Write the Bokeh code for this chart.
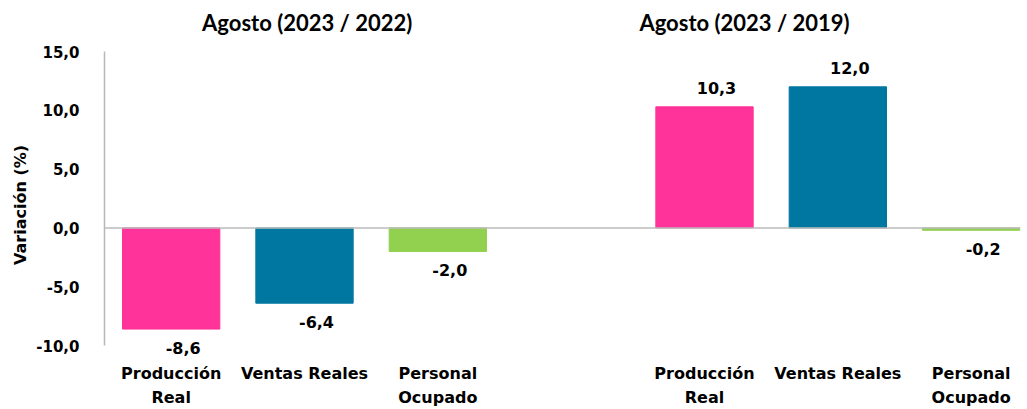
from bokeh.plotting import figure
from bokeh.models import ColumnDataSource, FixedTicker, Span
from bokeh.core.properties import value
from bokeh.embed import file_html
from bokeh.resources import INLINE

groups = ["Agosto (2023 / 2022)", "Agosto (2023 / 2019)"]
categories = ["Producción Real", "Ventas Reales", "Personal Ocupado"]
cat_line1 = ["Producción", "Ventas Reales", "Personal"]
cat_line2 = ["Real", "", "Ocupado"]
values_2022 = [-8.6, -6.4, -2.0]
values_2019 = [10.3, 12.0, -0.2]
colors = ["#FF3399", "#0077A0", "#92D050"]
y_ticks = [-10, -5, 0, 5, 10, 15]
y_tick_labels = ["-10,0", "-5,0", "0,0", "5,0", "10,0", "15,0"]

xs, tops, cols, txt, l1, l2 = [], [], [], [], [], []
for gi, vals in enumerate([values_2022, values_2019]):
    for ci, v in enumerate(vals):
        xs.append(gi * 4 + ci)
        tops.append(v)
        cols.append(colors[ci])
        txt.append(f"{v:.1f}".replace(".", ","))
        l1.append(cat_line1[ci])
        l2.append(cat_line2[ci])

ymin, ymax = -10, 15
src = ColumnDataSource(dict(x=xs, top=tops, color=cols, txt=txt, l1=l1, l2=l2,
                            yoff=[-19 if t >= 0 else 19 for t in tops],
                            yl1=[ymin - 2.38] * len(xs), yl2=[ymin - 4.42] * len(xs)))

p = figure(width=1027, height=409, output_backend="svg", toolbar_location=None,
           x_range=(-0.5, 6.37), y_range=(-15.44, 19.34),
           min_border_left=104, min_border_right=7, min_border_top=0, min_border_bottom=0)
p.outline_line_color = None
p.xgrid.visible = False
p.ygrid.visible = False

p.vbar(x="x", top="top", bottom=0, width=0.73, color="color", source=src)
p.add_layout(Span(location=0, dimension="width", line_color="#BBBBBB", line_width=1.5))

bold = dict(text_font_style="bold", text_color="#000000", text_align="center",
            text_baseline="middle")
# value labels
p.text(x="x", y="top", text="txt", source=src, x_offset=12, y_offset="yoff",
       text_font=value("DejaVu Sans"), text_font_size="16px", **bold)
# category labels
p.text(x="x", y="yl1", text="l1", source=src, text_font=value("DejaVu Sans"),
       text_font_size="16px", **bold)
p.text(x="x", y="yl2", text="l2", source=src, text_font=value("DejaVu Sans"),
       text_font_size="16px", **bold)
# group titles
tsrc = ColumnDataSource(dict(x=[1.02, 4.3], y=[ymax + 2.47] * 2, t=groups))
p.text(x="x", y="y", text="t", source=tsrc, text_font=value("Lato"),
       text_font_size="22px", **bold)

p.xaxis.visible = False

ya = p.yaxis[0]
ya.ticker = FixedTicker(ticks=y_ticks)
ya.bounds = (ymin, ymax)
ya.major_label_overrides = {t: l for t, l in zip(y_ticks, y_tick_labels)}
ya.major_tick_line_color = None
ya.minor_tick_line_color = None
ya.axis_line_color = "#B8B8B8"
ya.axis_line_width = 1.5
ya.major_label_standoff = 19
ya.major_label_text_font = "DejaVu Sans"
ya.major_label_text_font_style = "bold"
ya.major_label_text_font_size = "15px"
ya.major_label_text_color = "#000000"
ya.axis_label = "Variación (%)"
ya.axis_label_text_font = "DejaVu Sans"
ya.axis_label_text_font_style = "bold"
ya.axis_label_text_font_size = "16px"
ya.axis_label_text_color = "#000000"
ya.axis_label_standoff = 3

open("out.html", "w").write(file_html(p, INLINE))
